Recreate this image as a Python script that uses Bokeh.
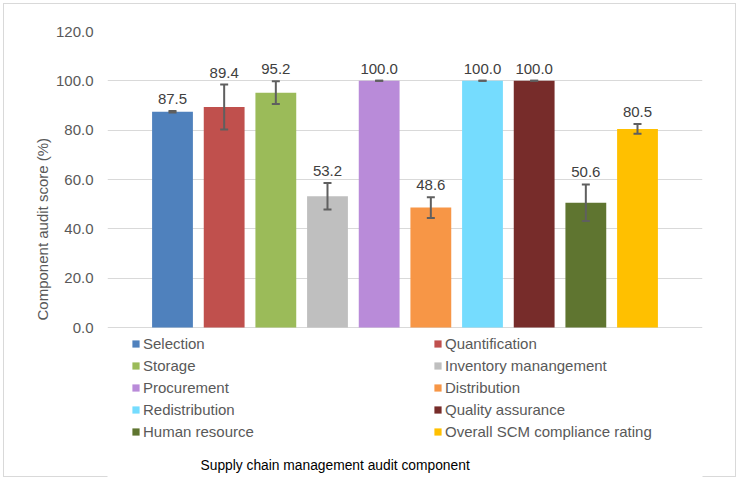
from bokeh.plotting import figure
from bokeh.models import (ColumnDataSource, FactorRange, FixedTicker, NumeralTickFormatter,
                          Whisker, TeeHead, LabelSet, Label, Legend, LegendItem, Title)
from bokeh.core.properties import value
from bokeh.embed import file_html
from bokeh.resources import INLINE

# ---- data ----
components = ["Selection", "Quantification", "Storage", "Inventory manangement",
              "Procurement", "Distribution", "Redistribution", "Quality assurance",
              "Human resource", "Overall SCM compliance rating"]
scores = [87.5, 89.4, 95.2, 53.2, 100.0, 48.6, 100.0, 100.0, 50.6, 80.5]
errors = [0.3, 9.1, 4.6, 5.4, 0.0, 4.2, 0.0, 0.0, 7.4, 2.0]
y_ticks = [0, 20, 40, 60, 80, 100, 120]

# ---- styles ----
colors = ["#4f81bd", "#c0504d", "#9bbb59", "#bfbfbf", "#b98bd9",
          "#f79646", "#75dcfe", "#772c2a", "#5f7530", "#ffc000"]
FONT = "Liberation Sans"

src = ColumnDataSource(dict(
    comp=components, score=scores, color=colors,
    upper=[s + e for s, e in zip(scores, errors)],
    lower=[s - e for s, e in zip(scores, errors)],
    txt=[f"{s:.1f}" for s in scores],
))

x_range = FactorRange(factors=components, range_padding=0.758,
                      range_padding_units="absolute", factor_padding=0)

# frame spans 31..480 px vertically: value 0 sits at 327 px, 120 at 31 px
y_bottom = -(480 - 327) * 120 / (327 - 31)

p = figure(width=739, height=480, x_range=x_range, y_range=(y_bottom, 120),
           output_backend="svg", toolbar_location=None, x_axis_location=None,
           min_border_left=107, min_border_right=37, min_border_top=31,
           min_border_bottom=0)
p.outline_line_color = None
p.background_fill_color = "white"
p.border_fill_alpha = 0
p.styles = {"background-color": "white",
            "box-shadow": "inset 0 0 0 3px #ffffff, inset 0 0 0 4px #d9d9d9",
            "boxShadow": "inset 0 0 0 3px #ffffff, inset 0 0 0 4px #d9d9d9"}

r = p.vbar(x="comp", top="score", bottom=0, width=0.79, source=src,
           fill_color="color", line_color=None)

w = Whisker(base="comp", upper="upper", lower="lower", source=src, level="overlay",
            line_color="#5f5f5f", line_width=2,
            upper_head=TeeHead(size=8, line_color="#5f5f5f", line_width=2),
            lower_head=TeeHead(size=8, line_color="#5f5f5f", line_width=2))
p.add_layout(w)

labels = LabelSet(x="comp", y="upper", text="txt", source=src, y_offset=12,
                  text_align="center", text_baseline="middle",
                  text_font=value(FONT), text_font_size="15px", text_color="#404040")
p.add_layout(labels)

# axes
p.xgrid.visible = False
p.yaxis.ticker = FixedTicker(ticks=y_ticks)
p.yaxis.formatter = NumeralTickFormatter(format="0.0")
p.yaxis.axis_line_color = None
p.yaxis.major_tick_line_color = None
p.yaxis.minor_tick_line_color = None
p.yaxis.major_label_standoff = 8
p.yaxis.major_label_text_font = FONT
p.yaxis.major_label_text_font_size = "15px"
p.yaxis.major_label_text_color = "#595959"
p.ygrid.grid_line_color = "#d9d9d9"
p.ygrid.grid_line_width = 1
p.ygrid.ticker = FixedTicker(ticks=y_ticks)

# y axis title (left panel, starting near the bottom of the bars)
p.add_layout(Title(text="Component audit score (%)", align="left", offset=160,
                   standoff=4,
                   text_font=FONT, text_font_size="15px", text_font_style="normal",
                   text_color="#595959"), "left")

# legend (inside the extended frame, below the bars)
items = [LegendItem(label=c, renderers=[r], index=i) for i, c in enumerate(components)]
leg = Legend(items=items, orientation="horizontal", ncols=2,
             location=(24, 40), margin=0, padding=0, spacing=5,
             glyph_width=9, glyph_height=9, label_standoff=3, label_width=285,
             label_text_font=FONT, label_text_font_size="15px",
             label_text_color="#595959", border_line_color=None,
             background_fill_alpha=0)
p.add_layout(leg)

# x axis title
p.add_layout(Label(x=93, y=15, x_units="screen", y_units="screen",
                   text="Supply chain management audit component",
                   text_align="left", text_baseline="middle",
                   text_font=FONT, text_font_size="13.8px", text_color="#000000"))

open("out.html", "w").write(file_html(p, INLINE))
